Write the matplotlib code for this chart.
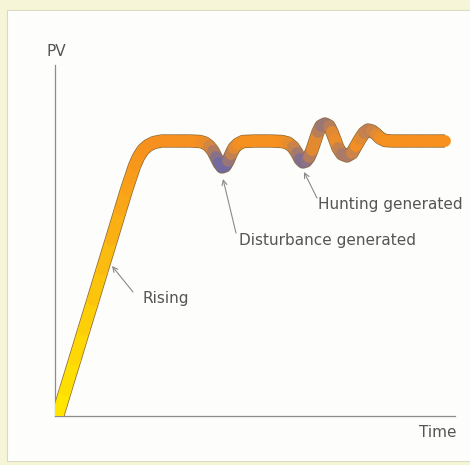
import numpy as np
import matplotlib
matplotlib.use("Agg")
import matplotlib.pyplot as plt
from matplotlib.collections import LineCollection
from matplotlib.patches import Rectangle
from matplotlib.colors import to_rgb

# ---- data (arbitrary units) ----
time = [0.8, 10.5, 19.7, 28.8, 38, 47.1, 56.3, 65.4, 71.5,
        75.5, 79.5, 83.5, 88, 93, 99, 107,
        120, 135, 145,
        150, 154, 158, 161, 164, 167, 170, 173, 176, 179, 183, 188,
        200, 215, 227,
        233, 238, 242, 245, 248, 251, 254, 257, 260, 263, 266, 270, 274, 277,
        280, 283, 287, 292, 297, 301, 305, 309, 313, 317, 321, 325, 330, 337,
        355, 375, 390]
pv = [-6, 26, 56, 86, 116, 146, 176, 206, 226,
      238, 250, 259, 266, 270.5, 273.5, 275,
      275, 275, 274.5,
      273, 270, 265, 259, 253, 249, 250, 255, 262, 268, 272, 274.5,
      275, 275, 274.5,
      273, 269, 263, 257, 254, 255, 259, 266, 275, 284, 290, 292, 290, 284,
      276, 268, 262, 260, 263, 270, 277, 283, 286, 285, 282, 278, 275.5, 275,
      275, 275, 275]
setpoint = 275
axis_labels = ["PV", "Time"]
notes = ["Rising", "Disturbance generated", "Hunting generated"]
note_text_pos = [(88, 118), (184, 176), (263, 211)]
note_tail = [(78, 124), (181, 183), (262, 218)]
note_tip = [(57, 150), (168, 237), (249, 244)]

W, H = 470, 465
fig = plt.figure(figsize=(W / 100, H / 100), dpi=100)
fig.patch.set_facecolor("#f7f5d8")

bg = fig.add_axes([0, 0, 1, 1], zorder=-10)
bg.set_xlim(0, W)
bg.set_ylim(H, 0)
bg.axis("off")
bg.add_patch(Rectangle((7, 10), 480, 451, facecolor="#fdfdfb",
                       edgecolor="#dcdac4", lw=0.8))

ax = fig.add_axes([55 / W, 49 / H, 400 / W, 351 / H])
ax.set_facecolor("none")
ax.set_xlim(0, 400)
ax.set_ylim(0, 351)
for s in ["top", "right"]:
    ax.spines[s].set_visible(False)
for s in ["left", "bottom"]:
    ax.spines[s].set_color("#8c8c8c")
    ax.spines[s].set_linewidth(0.9)
ax.set_xticks([])
ax.set_yticks([])

t = np.array(time, float)
v = np.array(pv, float)

yellow = np.array(to_rgb("#ffe600"))
orange = np.array(to_rgb("#f7901e"))
purple = np.array(to_rgb("#726a9c"))

def colour(tv, vv):
    if tv < 110:
        f = np.clip(vv / setpoint, 0, 1) ** 1.3
        return yellow * (1 - f) + orange * f
    d = np.clip(abs(vv - setpoint) / 22.0, 0, 1) ** 1.2
    return orange * (1 - d) + purple * d

pts = np.column_stack([t, v]).reshape(-1, 1, 2)
segs = np.concatenate([pts[:-1], pts[1:]], axis=1)
cols = [colour((t[i] + t[i + 1]) / 2, (v[i] + v[i + 1]) / 2) for i in range(len(t) - 1)]

# dark outline under the band
ax.plot(t, v, color="#8d6a36", lw=9.6, solid_capstyle="butt",
        solid_joinstyle="round", zorder=2)
lc = LineCollection(segs, colors=cols, linewidths=8.5, capstyle="round",
                    joinstyle="round", zorder=3)
ax.add_collection(lc)

txt = dict(color="#555555", fontsize=11, family="DejaVu Sans")
ax.text(1, 365, axis_labels[0], ha="center", va="center", clip_on=False, **txt)
ax.text(383, -16, axis_labels[1], ha="center", va="center", clip_on=False, **txt)

for label, pos, tail, tip in zip(notes, note_text_pos, note_tail, note_tip):
    ax.text(pos[0], pos[1], label, ha="left", va="center", **txt)
    ax.annotate("", xy=tip, xytext=tail,
                arrowprops=dict(arrowstyle="->", color="#8a8a8a", lw=0.8,
                                shrinkA=0, shrinkB=0, mutation_scale=9))

fig.savefig("out.png", dpi=100, facecolor=fig.get_facecolor())
